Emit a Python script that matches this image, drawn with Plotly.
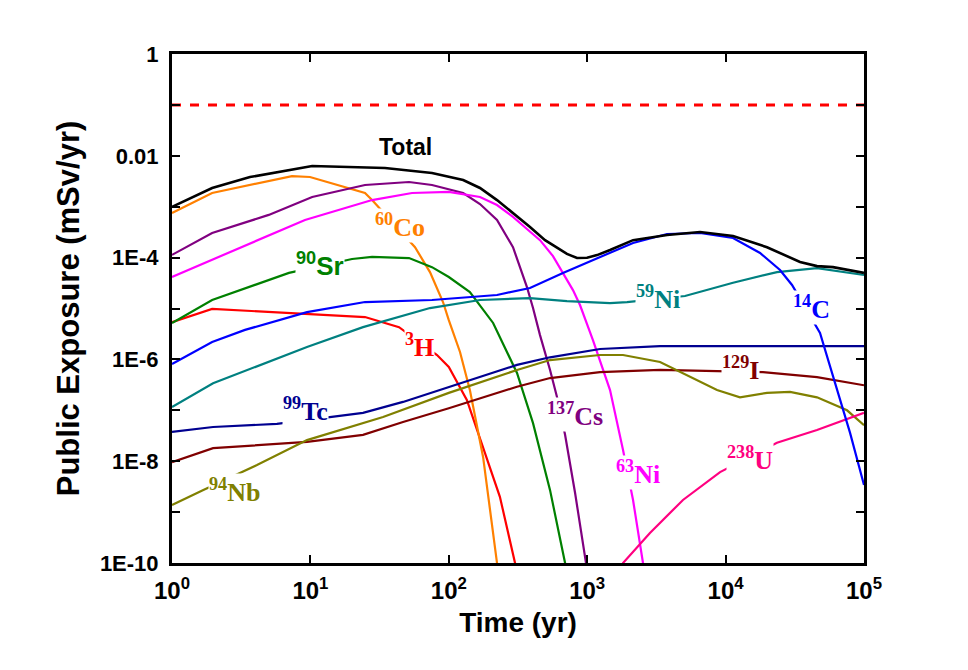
import plotly.graph_objects as go

# ---------------- data ----------------
total_t = [1, 1.95, 3.66, 10.3, 34.6, 75.6, 127, 168, 223, 291, 386, 496, 605, 714, 844, 997, 1178, 1462, 2144, 3775, 6534, 11320, 19920, 34500, 45750, 59700, 100000]
total_v = [9.9e-4, 2.33e-3, 3.83e-3, 6.3e-3, 5.75e-3, 4.6e-3, 3.35e-3, 2.33e-3, 1.35e-3, 7.5e-4, 4.0e-4, 2.2e-4, 1.6e-4, 1.18e-4, 9.8e-5, 9.9e-5, 1.12e-4, 1.41e-4, 2.2e-4, 2.78e-4, 3.18e-4, 2.65e-4, 1.6e-4, 8.2e-5, 6.8e-5, 6.5e-5, 5.0e-5]

co60_t = [1, 1.95, 7.36, 9.93, 24.8, 27.9, 57, 73.1, 90.8, 100, 120.5, 142, 177, 198.5, 223, 235]
co60_v = [7.5e-4, 1.86e-3, 4.0e-3, 3.83e-3, 1.86e-3, 1.35e-3, 1.6e-4, 5.2e-5, 1.34e-5, 5.9e-6, 1.4e-6, 2.5e-7, 1.2e-8, 1.1e-9, 1.0e-10, 1.0e-11]

cs137_t = [1, 1.95, 5.0, 10.3, 24.8, 51.6, 75.6, 127, 168, 223, 291, 367, 406, 456, 539, 605, 692, 817, 980, 1090]
cs137_v = [1.13e-4, 3.04e-4, 6.9e-4, 1.55e-3, 2.67e-3, 3.06e-3, 2.67e-3, 1.86e-3, 1.13e-3, 5.5e-4, 1.6e-4, 2.64e-5, 1.02e-5, 3.0e-6, 6.2e-7, 1.83e-7, 3.3e-8, 2.4e-9, 1.0e-10, 1.0e-11]

ni63_t = [1, 1.95, 9.14, 27.9, 54.2, 100, 168, 223, 291, 367, 456, 566, 668, 789, 887, 1100, 1462, 1815, 2144, 2530, 2750]
ni63_v = [4.16e-5, 9.0e-5, 5.5e-4, 1.35e-3, 1.86e-3, 1.95e-3, 1.55e-3, 1.08e-3, 6.3e-4, 3.65e-4, 2.2e-4, 1.07e-4, 5.0e-5, 2.3e-5, 1.17e-5, 2.4e-6, 2.5e-7, 1.66e-8, 1.73e-9, 1.0e-10, 1.0e-11]

sr90_t = [1, 1.95, 7.0, 20.0, 27.9, 51.6, 75.6, 100, 142, 209, 311, 406, 539, 692, 751]
sr90_v = [5.2e-6, 1.47e-5, 5.0e-5, 9.4e-5, 1.03e-4, 9.8e-5, 6.5e-5, 4.16e-5, 2.1e-5, 5.2e-6, 5.4e-7, 5.6e-8, 2.7e-9, 1.0e-10, 1.0e-11]

h3_t = [1, 1.95, 24.8, 43.7, 82.2, 100, 135, 177, 234, 301, 325]
h3_v = [5.4e-6, 9.8e-6, 6.8e-6, 4.3e-6, 1.22e-6, 7.1e-7, 1.6e-7, 1.9e-8, 2.0e-9, 1.0e-10, 1.0e-11]

c14_t = [1, 1.95, 3.37, 9.45, 24.8, 75.6, 223, 386, 668, 1237, 2144, 3775, 6534, 11320, 17740, 24730, 30200, 48100, 63800, 79300, 100000]
c14_v = [8.1e-7, 2.2e-6, 3.8e-6, 8.5e-6, 1.34e-5, 1.47e-5, 1.84e-5, 2.53e-5, 5.0e-5, 1.03e-4, 1.94e-4, 2.91e-4, 3.04e-4, 2.43e-4, 1.23e-4, 5.7e-5, 2.9e-5, 3.3e-6, 2.5e-7, 3.6e-8, 3.4e-9]

ni59_t = [1, 1.98, 9.45, 24, 73.1, 168, 386, 714, 1462, 1940, 5090, 11320, 23500, 45750, 100000]
ni59_v = [1.16e-7, 3.4e-7, 1.75e-6, 4.3e-6, 1.02e-5, 1.47e-5, 1.6e-5, 1.4e-5, 1.28e-5, 1.34e-5, 1.76e-5, 3.2e-5, 5.2e-5, 6.2e-5, 4.55e-5]

tc99_t = [1, 1.98, 5.73, 15.1, 24, 46.7, 100, 311, 539, 1237, 3360, 100000]
tc99_v = [3.75e-8, 4.7e-8, 5.4e-8, 7.4e-8, 8.9e-8, 1.46e-7, 2.9e-7, 7.8e-7, 1.1e-6, 1.6e-6, 1.83e-6, 1.83e-6]

i129_t = [1, 1.98, 9.45, 24, 46.7, 100, 311, 539, 1237, 3360, 8670, 18620, 45750, 100000]
i129_v = [9.6e-9, 1.8e-8, 2.4e-8, 3.3e-8, 5.9e-8, 1.1e-7, 2.9e-7, 4.3e-7, 5.6e-7, 6.2e-7, 5.9e-7, 5.6e-7, 4.5e-7, 3.1e-7]

nb94_t = [1, 1.67, 4.11, 9.45, 33.5, 100, 311, 539, 1237, 1815, 3360, 4920, 8670, 12700, 19920, 29200, 45750, 75400, 100000]
nb94_v = [1.38e-9, 2.7e-9, 8.4e-9, 2.6e-8, 7.4e-8, 2.2e-7, 6.2e-7, 9.7e-7, 1.22e-6, 1.22e-6, 8.9e-7, 5.4e-7, 2.5e-7, 1.8e-7, 2.2e-7, 2.3e-7, 1.8e-7, 1.0e-7, 5.1e-8]

u238_t = [1600, 1815, 2840, 4920, 9120, 23500, 45750, 100000]
u238_v = [3.0e-11, 1.0e-10, 3.9e-10, 1.73e-9, 6.1e-9, 2.3e-8, 4.1e-8, 8.9e-8]

limit_t = [1, 100000]
limit_v = [0.1, 0.1]

x_tick_vals = [1, 10, 100, 1000, 10000, 100000]
x_tick_text = ["10<sup>0</sup>", "10<sup>1</sup>", "10<sup>2</sup>", "10<sup>3</sup>", "10<sup>4</sup>", "10<sup>5</sup>"]
y_tick_vals = [1e-10, 1e-8, 1e-6, 1e-4, 1e-2, 1]
y_tick_text = ["1E-10", "1E-8", "1E-6", "1E-4", "0.01", "1"]
y_minor_vals = [1e-9, 1e-7, 1e-5, 1e-3, 1e-1]

# ---------------- figure ----------------
series = [
    (h3_t, h3_v, "#FF0000"),
    (co60_t, co60_v, "#FF8000"),
    (sr90_t, sr90_v, "#008000"),
    (cs137_t, cs137_v, "#800080"),
    (ni63_t, ni63_v, "#FF00FF"),
    (ni59_t, ni59_v, "#008080"),
    (tc99_t, tc99_v, "#000090"),
    (i129_t, i129_v, "#800000"),
    (nb94_t, nb94_v, "#808000"),
    (u238_t, u238_v, "#FF0080"),
    (c14_t, c14_v, "#0000FF"),
]

fig = go.Figure()
for t, v, c in series:
    fig.add_trace(go.Scatter(x=t, y=v, mode="lines", line=dict(color=c, width=2.2),
                             showlegend=False, hoverinfo="skip"))
fig.add_trace(go.Scatter(x=total_t, y=total_v, mode="lines", line=dict(color="#000000", width=2.6),
                         showlegend=False, hoverinfo="skip"))
fig.add_trace(go.Scatter(x=limit_t, y=limit_v, mode="lines", line=dict(color="#FF0000", width=3, dash="dash"),
                         showlegend=False, hoverinfo="skip"))

serif = "Liberation Serif"
sans = "Liberation Sans"
labels = [
    ("<b>Total</b>", 1.69, -1.83, "#000000", sans, 23),
    ("<b><sup>60</sup>Co</b>", 1.647, -3.36, "#FF8000", serif, 26),
    ("<b><sup>90</sup>Sr</b>", 1.069, -4.13, "#008000", sans, 26),
    ("<b><sup>3</sup>H</b>", 1.79, -5.72, "#FF0000", serif, 26),
    ("<b><sup>99</sup>Tc</b>", 0.968, -6.99, "#000090", serif, 26),
    ("<b><sup>94</sup>Nb</b>", 0.448, -8.57, "#808000", serif, 26),
    ("<b><sup>137</sup>Cs</b>", 2.91, -7.09, "#800080", serif, 26),
    ("<b><sup>63</sup>Ni</b>", 3.367, -8.23, "#FF00FF", serif, 26),
    ("<b><sup>238</sup>U</b>", 4.176, -7.94, "#FF0080", serif, 26),
    ("<b><sup>129</sup>I</b>", 4.11, -6.17, "#800000", serif, 26),
    ("<b><sup>14</sup>C</b>", 4.624, -4.99, "#0000FF", serif, 26),
    ("<b><sup>59</sup>Ni</b>", 3.51, -4.79, "#008080", serif, 26),
]
for txt, lx, ly, c, fam, sz in labels:
    fig.add_annotation(x=lx, y=ly, xref="x", yref="y", text=txt, showarrow=False,
                       font=dict(family=fam, size=sz, color=c),
                       bgcolor="white" if txt != "<b>Total</b>" else "rgba(0,0,0,0)", borderpad=0)

axis_common = dict(showline=True, linecolor="black", linewidth=3, mirror="ticks", ticks="inside",
                   ticklen=8, tickwidth=2, tickcolor="black", showgrid=False, zeroline=False)

fig.update_xaxes(type="log", range=[0, 5], tickvals=x_tick_vals,
                 ticktext=["<b>" + s + "</b>" for s in x_tick_text],
                 tickfont=dict(family=sans, size=24, color="black"),
                 ticklabelstandoff=4,
                 title=dict(text="<b>Time (yr)</b>", font=dict(family=sans, size=28, color="black"), standoff=10),
                 **axis_common)
fig.update_yaxes(type="log", range=[-10, 0], tickvals=y_tick_vals,
                 ticktext=["<b>" + s + "</b>" for s in y_tick_text],
                 tickfont=dict(family=sans, size=22, color="black"),
                 title=dict(text="<b>Public Exposure (mSv/yr)</b>", font=dict(family=sans, size=31, color="black"), standoff=12),
                 ticklabelstandoff=6,
                 minor=dict(tickmode="array", tickvals=y_minor_vals, ticks="inside", ticklen=8,
                            tickwidth=2, tickcolor="black", showgrid=False),
                 **axis_common)

fig.update_layout(width=968, height=670, margin=dict(l=164, r=112, t=46, b=115, autoexpand=False),
                  plot_bgcolor="white", paper_bgcolor="white")

fig.write_html("out.html")
